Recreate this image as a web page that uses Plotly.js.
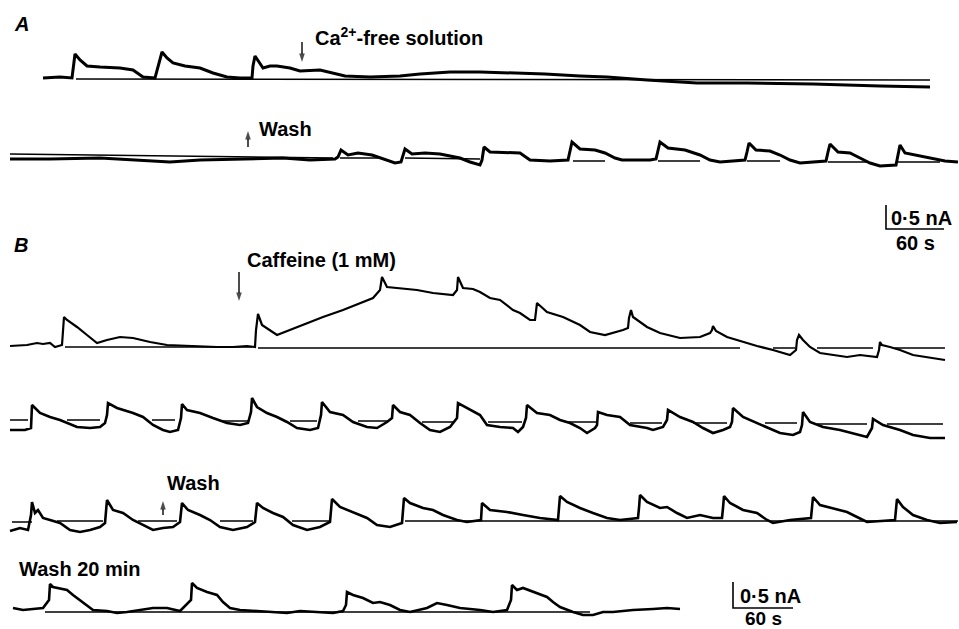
<!DOCTYPE html>
<html>
<head>
<meta charset="utf-8">
<script src="https://cdn.plot.ly/plotly-3.0.1.min.js"></script>
<style>html,body{margin:0;padding:0;background:#fff;}#chart{width:959px;height:629px;}</style>
</head>
<body>
<div id="chart"></div>
<script>
// Time axis (x) and current axis (y) in plot units; each row has its own resting level.
// Panel A, row 1: control then Ca2+-free solution
const a1T = [43,60,72,73,75,80,87,100,120,133,143,155,157,162,167,173,185,200,213,227,240,252,253,255,259,263,270,277,290,300,320,333,345,370,400,420,450,480,545,580,607,647,697,747,813,880,930];
const a1I = [78,77,78,70,54,60,66,67,68,70,77,78,70,52,58,63,66,68,73,77,78,78,66,56,62,68,66,66,68,71,70,73,76,77,76,74,72,72,74,76,77,80,83,83,84,86,87];
const a1BaseT = [76,930];
const a1BaseI = [79,80];

// Panel A, row 2: wash
const a2T = [10,50,100,140,170,200,240,283,310,335,338,341,348,358,372,383,395,401,403,405,412,425,440,460,470,480,482,484,490,520,530,550,568,570,572,580,595,605,615,622,650,656,658,660,668,685,700,710,720,745,747,749,756,770,780,790,800,826,828,830,838,850,860,870,880,896,898,900,905,915,930,945,958];
const a2I = [159,159,158,160,162,160,159,158,160,159,157,150,155,153,155,159,163,162,156,149,154,153,154,158,162,165,160,147,152,153,160,161,160,152,142,149,150,153,158,160,160,159,150,142,148,150,155,160,162,160,152,143,150,151,155,160,163,161,152,144,152,153,158,163,166,165,155,145,153,155,158,161,162];
const a2BaseT = [10,333,null,340,378,null,405,480,null,573,605,null,658,700,null,747,780,null,828,867,null,898,940];
const a2BaseI = [154,158,null,158,158,null,158,159,null,161,161,null,161,161,null,161,161,null,162,162,null,162,162];

// Panel B, row 1: caffeine (1 mM)
const b1T = [10,27,37,43,50,55,62,63,64,67,77,87,97,107,120,133,150,167,187,217,233,247,255,256,258,262,277,290,307,323,343,360,373,380,381,382,387,417,433,453,457,458,463,473,480,490,500,513,520,530,535,536,537,547,563,580,590,605,613,623,628,629,631,633,647,660,680,700,710,712,713,716,727,743,757,773,783,790,796,797,799,803,810,820,847,860,877,879,880,882,890,900,913,930,945];
const b1I = [346,345,343,344,343,347,345,330,317,320,327,335,343,340,337,338,342,345,346,347,347,346,347,330,314,325,335,330,323,317,310,303,298,290,284,277,287,290,293,295,290,277,288,289,292,298,300,310,313,320,320,310,303,312,317,325,332,335,333,330,328,318,310,317,327,333,338,337,333,330,326,331,337,342,346,350,353,355,350,340,335,340,347,353,357,355,357,350,342,345,347,350,355,358,360];
const b1BaseT = [65,252,null,258,740,null,773,795,null,817,873,null,895,945];
const b1BaseI = [347,347,null,348,348,null,348,348,null,348,348,null,348,348];

// Panel B, row 2
const b2T = [10,25,31,32,40,50,60,67,77,90,100,105,107,108,117,133,143,153,163,170,178,181,182,187,200,213,227,240,248,251,252,257,267,277,287,297,310,318,321,322,330,343,353,367,377,387,392,393,400,410,420,430,440,450,457,458,467,480,487,500,513,518,523,526,527,537,550,560,570,580,587,595,597,598,607,620,630,647,653,663,667,668,680,693,703,713,723,730,732,733,743,757,767,780,793,800,802,803,810,823,840,853,867,872,873,883,900,913,930,945];
const b2I = [430,430,428,405,413,417,420,423,427,428,427,423,415,403,408,413,417,425,430,432,430,418,404,410,413,418,423,425,423,412,398,407,413,417,422,428,430,428,415,402,412,415,422,427,428,422,418,405,412,415,423,430,432,427,418,403,408,415,425,427,428,432,427,418,405,413,415,420,423,428,433,428,425,412,415,417,425,428,430,427,420,410,417,422,428,433,430,427,422,408,417,423,428,433,435,432,425,412,422,427,430,433,437,428,419,425,430,435,438,438];
const b2BaseT = [10,28,null,67,100,null,152,175,null,220,248,null,290,317,null,358,387,null,422,453,null,488,522,null,568,597,null,630,662,null,693,727,null,765,797,null,817,867,null,887,943];
const b2BaseI = [420,420,null,420,420,null,420,420,null,421,421,null,421,421,null,421,421,null,422,422,null,422,422,null,422,422,null,423,423,null,423,423,null,423,423,null,424,424,null,424,424];

// Panel B, row 3: wash
const b3T = [10,20,28,31,32,35,38,43,50,60,70,80,90,100,105,106,107,113,123,133,143,153,163,173,180,181,182,188,200,210,220,233,247,255,256,257,263,273,283,293,307,320,330,331,332,340,353,367,377,390,402,403,404,410,423,433,443,457,467,481,482,490,507,523,540,558,559,560,567,580,593,607,620,638,639,640,647,660,667,677,687,700,713,722,723,724,730,743,757,767,773,790,811,812,813,820,833,847,857,867,895,896,897,903,913,927,940,957];
const b3I = [531,528,530,515,502,513,510,518,520,523,530,532,530,527,523,512,500,510,513,520,525,530,528,527,522,515,503,510,515,520,527,530,527,522,515,503,508,513,517,525,530,527,522,512,499,507,512,518,525,527,523,510,498,503,508,510,515,520,522,520,503,510,512,515,518,520,510,496,502,508,513,518,520,518,508,495,502,508,507,513,518,515,518,518,508,496,503,510,513,520,523,520,518,508,497,505,508,512,517,522,520,510,499,507,515,520,523,522];
const b3BaseT = [12,32,null,57,103,null,138,177,null,220,253,null,292,330,null,405,958];
const b3BaseI = [522,522,null,521,521,null,521,521,null,521,521,null,521,521,null,521,521];

// Panel B, row 4: wash 20 min
const b4T = [13,23,33,43,49,50,53,58,67,73,80,87,93,107,117,127,140,153,167,180,191,192,197,207,217,223,230,240,257,277,287,300,320,333,343,346,347,353,363,373,380,390,400,410,427,437,447,460,480,493,507,511,512,517,523,537,547,553,560,573,583,593,603,613,633,653,667,680];
const b4I = [608,610,609,608,600,584,587,588,590,595,600,605,610,611,613,612,610,608,608,611,600,583,588,592,595,602,608,610,611,612,613,611,612,613,611,605,592,595,598,603,602,605,610,612,608,603,605,608,610,612,610,600,585,590,588,593,597,602,607,612,615,615,612,612,610,609,608,609];
const b4BaseT = [45,590];
const b4BaseI = [612,612];

// Scale bars (0.5 nA, 60 s)
const scaleAT = [886,886,944];
const scaleAI = [205,229,229];
const scaleBT = [733,733,793];
const scaleBI = [582,608,608];

// Event arrows (tail, head)
const arrowCaT = [302,302],   arrowCaI = [42,62];
const arrowWashAT = [248,248], arrowWashAI = [147,131];
const arrowCafT = [239,239],  arrowCafI = [272,301];
const arrowWashBT = [163,163], arrowWashBI = [515,501];

const FONT = 'Liberation Sans, Arial, Helvetica, sans-serif';
function tr(x, y, w) {
  return {x: x, y: y, type: 'scatter', mode: 'lines', line: {color: '#000', width: w},
          hoverinfo: 'skip', showlegend: false, connectgaps: false};
}
function arr(x, y) {
  return {x: x, y: y, type: 'scatter', mode: 'lines+markers', line: {color: '#000', width: 1.4},
          marker: {symbol: 'arrow', angleref: 'previous', size: [0, 9], color: '#000', line: {width: 0}},
          hoverinfo: 'skip', showlegend: false};
}
const data = [
  tr(a1BaseT, a1BaseI, 1.5), tr(a1T, a1I, 3),
  tr(a2BaseT, a2BaseI, 1.5), tr(a2T, a2I, 3),
  tr(b1BaseT, b1BaseI, 1.5), tr(b1T, b1I, 2.2),
  tr(b2BaseT, b2BaseI, 1.5), tr(b2T, b2I, 2.6),
  tr(b3BaseT, b3BaseI, 1.5), tr(b3T, b3I, 2.6),
  tr(b4BaseT, b4BaseI, 1.5), tr(b4T, b4I, 2.6),
  tr(scaleAT, scaleAI, 1.6), tr(scaleBT, scaleBI, 1.6),
  arr(arrowCaT, arrowCaI), arr(arrowWashAT, arrowWashAI),
  arr(arrowCafT, arrowCafI), arr(arrowWashBT, arrowWashBI)
];

function label(x, y, text, anchor, size) {
  return {x: x, y: y, xref: 'x', yref: 'y', text: text, showarrow: false,
          xanchor: anchor || 'left', yanchor: 'middle',
          font: {family: FONT, size: size || 20, color: '#000'}};
}

const layout = {
  width: 959, height: 629,
  margin: {l: 0, r: 0, t: 0, b: 0, pad: 0},
  paper_bgcolor: '#fff', plot_bgcolor: '#fff',
  xaxis: {range: [0, 959], visible: false, fixedrange: true},
  yaxis: {range: [629, 0], visible: false, fixedrange: true},
  annotations: [
    label(12, 24, '<b><i>A</i></b>'),
    label(313, 36, '<b>Ca<sup>2+</sup>-free solution</b>'),
    label(257, 129, '<b>Wash</b>'),
    label(889, 218, '<b>0·5 nA</b>'),
    label(915, 243, '<b>60 s</b>', 'center'),
    label(12, 245, '<b><i>B</i></b>'),
    label(245, 260, '<b>Caffeine (1 mM)</b>'),
    label(165, 483, '<b>Wash</b>'),
    label(17, 569, '<b>Wash 20 min</b>'),
    label(738, 596, '<b>0·5 nA</b>'),
    label(763, 618, '<b>60 s</b>', 'center', 19)
  ]
};
Plotly.newPlot('chart', data, layout, {displayModeBar: false, staticPlot: true});
</script>
</body>
</html>
